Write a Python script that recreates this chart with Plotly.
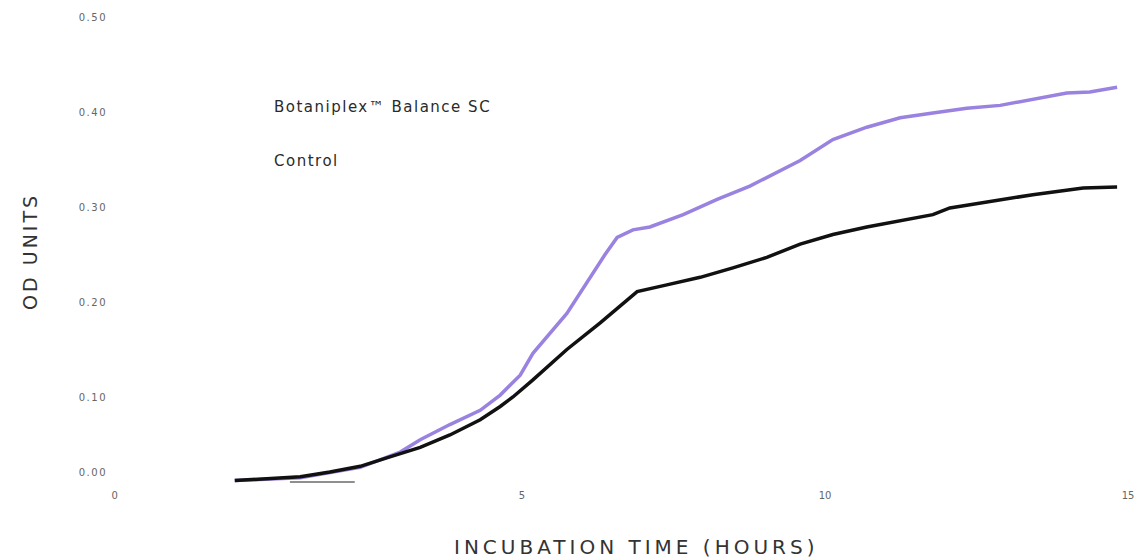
import plotly.graph_objects as go

# ---- data ----
control_hours = [0.26, 0.84, 1.34, 1.83, 2.33, 2.82, 3.32, 3.81, 4.31, 4.64, 4.85, 5.18, 5.74,
                 6.29, 6.90, 7.39, 7.94, 8.48, 9.04, 9.59, 10.13, 10.69, 11.24, 11.78, 12.06,
                 12.89, 13.43, 14.26, 14.82]
control_od = [0.012, 0.014, 0.016, 0.021, 0.027, 0.037, 0.047, 0.060, 0.076, 0.090, 0.100, 0.118,
              0.150, 0.178, 0.211, 0.218, 0.226, 0.236, 0.247, 0.261, 0.271, 0.279, 0.286, 0.292,
              0.299, 0.307, 0.313, 0.320, 0.321]

bota_hours = [0.26, 1.34, 2.33, 2.99, 3.32, 3.81, 4.31, 4.64, 4.97, 5.18, 5.74, 6.12, 6.37, 6.57,
              6.83, 7.11, 7.66, 8.22, 8.76, 9.59, 10.13, 10.69, 11.24, 11.78, 12.34, 12.89,
              13.43, 13.99, 14.37, 14.82]
bota_od = [0.012, 0.015, 0.026, 0.042, 0.055, 0.071, 0.086, 0.102, 0.123, 0.146, 0.188, 0.226,
           0.250, 0.268, 0.276, 0.279, 0.292, 0.308, 0.322, 0.349, 0.371, 0.384, 0.394, 0.399,
           0.404, 0.407, 0.413, 0.420, 0.421, 0.426]

baseline_hours = [1.17, 2.24]
baseline_od = [0.0105, 0.0105]

series_names = ["Botaniplex\u2122 Balance SC", "Control"]

# tick labels as printed (positions as they appear in the reference)
x_tick_pos = [-1.72, 5, 10, 15]
x_tick_text = ["0", "5", "10", "15"]
y_tick_pos = [0.021, 0.1, 0.2, 0.3, 0.4, 0.5]
y_tick_text = ["0.00", "0.10", "0.20", "0.30", "0.40", "0.50"]

FONT = "DejaVu Sans"


def spaced(s, px):
    return '<span style="letter-spacing:%spx">%s</span>' % (px, s)


fig = go.Figure()
fig.add_trace(go.Scatter(x=baseline_hours, y=baseline_od, mode="lines",
                         line=dict(color="#6a6a6a", width=1.5), showlegend=False, hoverinfo="skip"))
fig.add_trace(go.Scatter(x=bota_hours, y=bota_od, mode="lines", name=series_names[0],
                         line=dict(color="#9a82e0", width=3.5), showlegend=False))
fig.add_trace(go.Scatter(x=control_hours, y=control_od, mode="lines", name=series_names[1],
                         line=dict(color="#111111", width=3.5), showlegend=False))

annotations = [
    dict(x=0.875, y=0.405, xref="x", yref="y", xanchor="left", yanchor="middle", showarrow=False,
         text=spaced(series_names[0], 1.5),
         font=dict(family=FONT, size=15, color="#2a2a2a")),
    dict(x=0.875, y=0.348, xref="x", yref="y", xanchor="left", yanchor="middle", showarrow=False,
         text=spaced(series_names[1], 1.5),
         font=dict(family=FONT, size=15, color="#2a2a2a")),
    dict(x=0.5107, y=-0.1234, xref="paper", yref="paper", xanchor="center", yanchor="middle",
         showarrow=False, text=spaced("INCUBATION TIME (HOURS)", 4),
         font=dict(family=FONT, size=20, color="#333333")),
    dict(x=-0.0799, y=0.494, xref="paper", yref="paper", xanchor="center", yanchor="middle",
         showarrow=False, textangle=-90, text=spaced("OD UNITS", 3),
         font=dict(family=FONT, size=19, color="#333333")),
]

fig.update_layout(
    width=1138, height=560,
    margin=dict(l=112, r=0, t=10, b=72),
    paper_bgcolor="white", plot_bgcolor="white",
    showlegend=False,
    annotations=annotations,
    xaxis=dict(range=[-1.766, 15.165], showgrid=False, zeroline=False, showline=False,
               automargin=False, ticklabeloverflow="allow",
               tickmode="array", tickvals=x_tick_pos, ticktext=x_tick_text, ticks="",
               tickfont=dict(family=FONT, size=10, color="#666666")),
    yaxis=dict(range=[0.0042, 0.5074], showgrid=False, zeroline=False, showline=False,
               automargin=False, ticklabelstandoff=4,
               tickmode="array", tickvals=y_tick_pos,
               ticktext=[spaced(t, 1.5) for t in y_tick_text], ticks="",
               tickfont=dict(family=FONT, size=10, color="#666666")),
)

fig.write_html("out.html", config={"displayModeBar": False},
               post_script="document.body.style.margin='0';document.body.style.overflow='hidden';")
